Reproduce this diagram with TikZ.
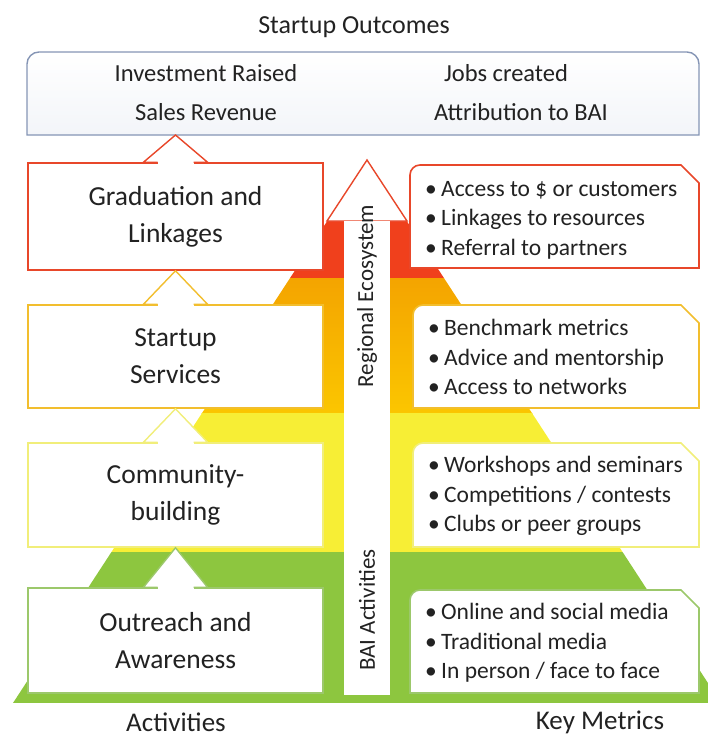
\documentclass[tikz,border=0pt]{standalone}
\usepackage{fontspec}
\setmainfont{Carlito}
\usetikzlibrary{calc}

\definecolor{ecoRed}{HTML}{F0401C}
\definecolor{ecoGoldTop}{HTML}{F4A400}
\definecolor{ecoGoldBot}{HTML}{FBC600}
\definecolor{ecoYellow}{HTML}{F7EE35}
\definecolor{ecoGreen}{HTML}{8DC63F}
\definecolor{gradLine}{HTML}{E8472A}
\definecolor{servLine}{HTML}{F2BE2E}
\definecolor{commLine}{HTML}{F1EE7A}
\definecolor{outrLine}{HTML}{9CC86B}
\definecolor{outcLine}{HTML}{8595B5}
\definecolor{outcFill}{HTML}{F3F5F9}
\definecolor{txtGray}{HTML}{222222}

\tikzset{
  actbox/.style={draw=#1, line width=1.6pt, fill=white, minimum width=295pt,
    inner sep=0pt, align=center, text=txtGray, font=\fontsize{27.5}{37}\selectfont},
  metric/.style={anchor=west, align=left, inner sep=0pt, text=txtGray, font=\fontsize{23.5}{29.5}\selectfont},
  plain/.style={inner sep=0pt, text=txtGray, font=\fontsize{24.5}{28}\selectfont},
  arrowhd/.style={line width=1.4pt, fill=white, line join=miter}
}

\newcommand{\mbul}{\makebox[16pt][l]{\textbullet}}
% frame of a metric box: colour, x1, y1, x2, y2
\newcommand{\metricframe}[5]{%
  \draw[draw=#1, line width=1.6pt, fill=white] (#2,#5) -- (#2,#3+10)
    arc[start angle=180, end angle=270, radius=10] -- (#4-18,#3) -- (#4,#3+18) -- (#4,#5) -- cycle;
}

\begin{document}
\begin{tikzpicture}[x=1pt,y=-1pt]
  \useasboundingbox (0,0) rectangle (708,737);

  % stepped background
  \begin{scope}
    \clip (367,160) -- (721,703) -- (13,703) -- cycle;
    \fill[ecoRed] (0,150) rectangle (708,278);
    \shade[top color=ecoGoldTop, bottom color=ecoGoldBot] (0,278) rectangle (708,413);
    \fill[ecoYellow] (0,413) rectangle (708,552);
    \fill[ecoGreen] (0,552) rectangle (708,703);
  \end{scope}

  % outcomes
  \node[plain, font=\fontsize{26}{28}\selectfont] (outlbl) at (354,27) {Startup Outcomes};
  \draw[outcLine, line width=1.4pt, top color=white, bottom color=outcFill] (27,135) -- (27,64)
    arc[start angle=180, end angle=270, radius=12] -- (687,52)
    arc[start angle=270, end angle=360, radius=12] -- (699,135) -- cycle;
  \node[minimum width=672pt, minimum height=83pt, inner sep=0pt, outer sep=0pt] (outcomes) at (363,93.5) {};
  \node[plain] (invest) at (206,73) {Investment Raised};
  \node[plain] (jobs) at (506,73) {Jobs created};
  \node[plain] (sales) at (206,112) {Sales Revenue};
  \node[plain] (attrib) at (521,112) {Attribution to BAI};

  % activities
  \node[actbox=gradLine, minimum height=107pt] (grad) at (175.5,216.5) {Graduation and\\Linkages};
  \node[actbox=servLine, minimum height=103pt] (serv) at (175.5,356.5) {Startup\\Services};
  \node[actbox=commLine, minimum height=104pt] (comm) at (175.5,495) {Community-\\building};
  \node[actbox=outrLine, minimum height=105pt] (outr) at (175.5,640.5) {Outreach and\\Awareness};

  \foreach \lo/\hi/\col in {grad/outcomes/gradLine, serv/grad/servLine, comm/serv/commLine, outr/comm/outrLine}{
    \fill[white] ($(\lo.north)+(-18,-2)$) rectangle ($(\lo.north)+(18,2)$);
    \draw[arrowhd, draw=\col] ($(\lo.north)+(-18,0)$) -- ($(\lo.north)+(-32,0)$)
      -- (\lo.north |- \hi.south) -- ($(\lo.north)+(32,0)$) -- ($(\lo.north)+(18,0)$);
  }

  % central arrow
  \draw[arrowhd, draw=gradLine] (327,221) -- (367,160) -- (407,221) -- cycle;
  \fill[white] (344,220.5) rectangle (390,695);
  \node[plain, rotate=90, font=\fontsize{23}{26}\selectfont] (regeco) at (367,296) {Regional Ecosystem};
  \node[plain, rotate=90, font=\fontsize{23}{26}\selectfont] (baiact) at (367,610) {BAI Activities};

  % key metrics
  \metricframe{gradLine}{410}{165}{699}{268}
  \metricframe{servLine}{413}{305}{699}{408}
  \metricframe{commLine}{413}{443}{699}{547}
  \metricframe{outrLine}{410}{590}{699}{693}
  \node[metric] (mgrad) at (425,220) {\mbul Access to \$ or customers\\\mbul Linkages to resources\\\mbul Referral to partners};
  \node[metric] (mserv) at (428,357) {\mbul Benchmark metrics\\\mbul Advice and mentorship\\\mbul Access to networks};
  \node[metric] (mcomm) at (428,496) {\mbul Workshops and seminars\\\mbul Competitions / contests\\\mbul Clubs or peer groups};
  \node[metric] (moutr) at (425,643) {\mbul Online and social media\\\mbul Traditional media\\\mbul In person / face to face};

  % column labels
  \node[plain, font=\fontsize{27}{28}\selectfont] (actlbl) at (176,722) {Activities};
  \node[plain, font=\fontsize{27}{28}\selectfont] (keylbl) at (600,722) {Key Metrics};
\end{tikzpicture}
\end{document}
